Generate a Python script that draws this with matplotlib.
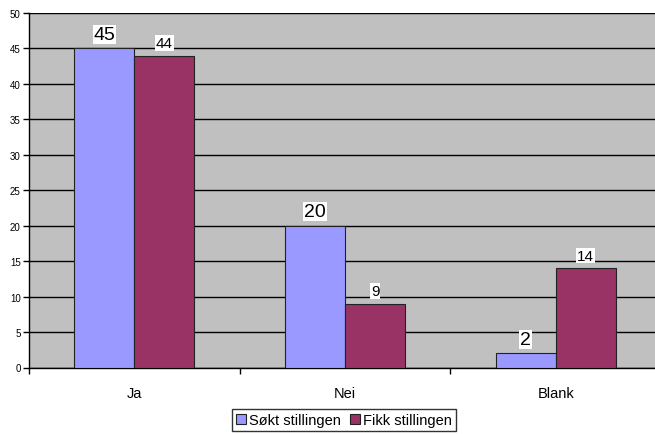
import matplotlib
matplotlib.use("Agg")
import numpy as np
import matplotlib.pyplot as plt

plt.rcParams['font.family'] = ['Liberation Sans', 'DejaVu Sans']

categories = ['Ja', 'Nei', 'Blank']
sokt = [45, 20, 2]
fikk = [44, 9, 14]
series_names = ['Søkt stillingen', 'Fikk stillingen']

fig = plt.figure(figsize=(6.55, 4.35), dpi=100)
ax = fig.add_axes([29 / 655, 1 - 368.5 / 435, 632 / 655, 354.5 / 435])
ax.set_facecolor('#C0C0C0')

x = np.arange(len(categories))
w = 0.285
b1 = ax.bar(x - w / 2, sokt, w, color='#9999FF', edgecolor='#222222', lw=0.8,
            label=series_names[0], zorder=3)
b2 = ax.bar(x + w / 2, fikk, w, color='#993366', edgecolor='#222222', lw=0.8,
            label=series_names[1], zorder=3)

for rect, v in zip(b1, sokt):
    ax.annotate(str(v), (rect.get_x() + rect.get_width() / 2, v), xytext=(0, 4),
                textcoords='offset points', ha='center', va='bottom', fontsize=14,
                bbox=dict(facecolor='white', edgecolor='none', pad=0.5), zorder=4)
for rect, v in zip(b2, fikk):
    ax.annotate(str(v), (rect.get_x() + rect.get_width() / 2, v), xytext=(0, 4),
                textcoords='offset points', ha='center', va='bottom', fontsize=11,
                bbox=dict(facecolor='white', edgecolor='none', pad=0.5), zorder=4)

ax.set_xlim(-0.5, 2.5)
ax.set_ylim(0, 50)
ax.set_yticks(range(0, 51, 5))
ax.yaxis.grid(True, color='black', lw=1)
ax.set_axisbelow(True)
ax.tick_params(axis='y', labelsize=7, length=4, width=1, pad=2)

ax.set_xticks(x)
ax.set_xticklabels(categories, fontsize=10.5)
ax.tick_params(axis='x', which='major', length=0, pad=13)
ax.set_xticks([-0.5, 0.5, 1.5, 2.5], minor=True)
ax.tick_params(axis='x', which='minor', length=4, width=1)

for s in ['top', 'right']:
    ax.spines[s].set_visible(False)
ax.spines['left'].set_linewidth(1)
ax.spines['bottom'].set_linewidth(1)

leg = fig.legend(handles=[b1, b2], loc='center', bbox_to_anchor=(344 / 655, 1 - 421 / 435),
                 ncol=2, fontsize=10.5, frameon=True, fancybox=False, edgecolor='black',
                 handlelength=0.7, handleheight=0.7, handletextpad=0.2, columnspacing=0.6,
                 borderpad=0.25, borderaxespad=0)
leg.get_frame().set_linewidth(1)

fig.savefig('out.png', dpi=100)
